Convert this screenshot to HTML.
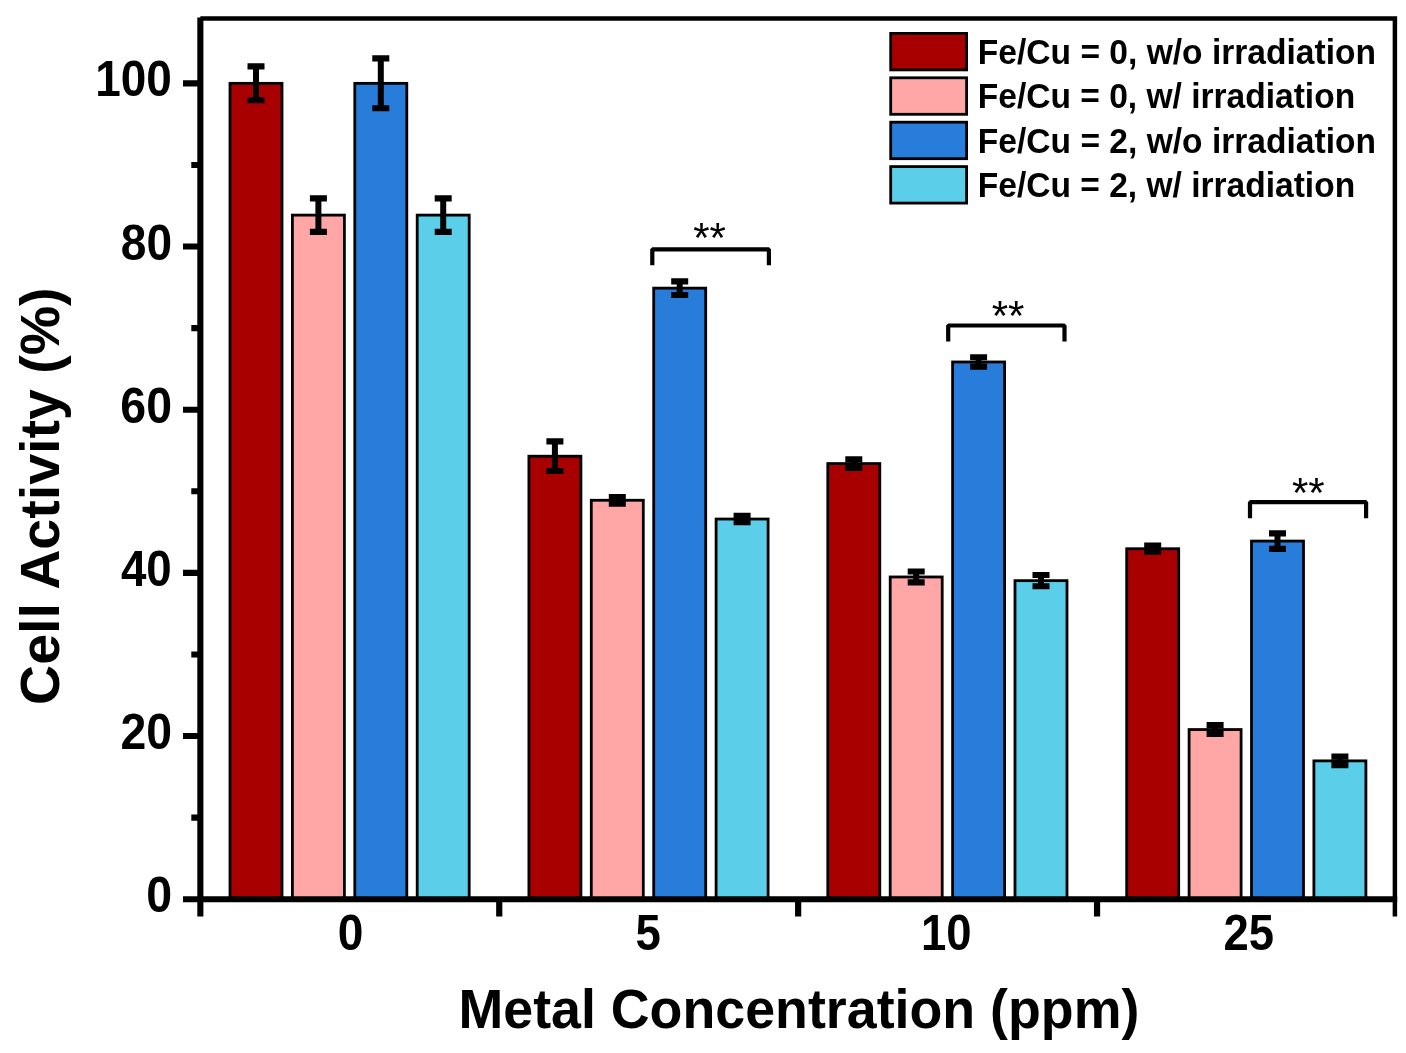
<!DOCTYPE html>
<html><head><meta charset="utf-8"><title>Cell Activity vs Metal Concentration</title>
<style>html,body{margin:0;padding:0;background:#fff;}svg{display:block;}text{font-family:"Liberation Sans",sans-serif;font-weight:bold;fill:#000;}.st{font-weight:normal;}svg{will-change:transform;}</style></head><body>
<svg width="1406" height="1053" viewBox="0 0 1406 1053">
<rect x="0" y="0" width="1406" height="1053" fill="#fff"/>
<rect x="230.00" y="83.35" width="52.00" height="815.90" fill="#A80000" stroke="#000" stroke-width="2.8"/>
<rect x="292.40" y="215.12" width="52.00" height="684.13" fill="#FFA6A6" stroke="#000" stroke-width="2.8"/>
<rect x="354.80" y="83.35" width="52.00" height="815.90" fill="#277DD9" stroke="#000" stroke-width="2.8"/>
<rect x="417.20" y="215.12" width="52.00" height="684.13" fill="#5BCEEA" stroke="#000" stroke-width="2.8"/>
<rect x="528.90" y="456.22" width="52.00" height="443.03" fill="#A80000" stroke="#000" stroke-width="2.8"/>
<rect x="591.30" y="500.27" width="52.00" height="398.98" fill="#FFA6A6" stroke="#000" stroke-width="2.8"/>
<rect x="653.70" y="288.14" width="52.00" height="611.11" fill="#277DD9" stroke="#000" stroke-width="2.8"/>
<rect x="716.10" y="519.04" width="52.00" height="380.21" fill="#5BCEEA" stroke="#000" stroke-width="2.8"/>
<rect x="827.80" y="463.56" width="52.00" height="435.69" fill="#A80000" stroke="#000" stroke-width="2.8"/>
<rect x="890.20" y="576.97" width="52.00" height="322.28" fill="#FFA6A6" stroke="#000" stroke-width="2.8"/>
<rect x="952.60" y="361.98" width="52.00" height="537.27" fill="#277DD9" stroke="#000" stroke-width="2.8"/>
<rect x="1015.00" y="580.64" width="52.00" height="318.61" fill="#5BCEEA" stroke="#000" stroke-width="2.8"/>
<rect x="1126.70" y="548.74" width="52.00" height="350.51" fill="#A80000" stroke="#000" stroke-width="2.8"/>
<rect x="1189.10" y="729.54" width="52.00" height="169.71" fill="#FFA6A6" stroke="#000" stroke-width="2.8"/>
<rect x="1251.50" y="541.07" width="52.00" height="358.18" fill="#277DD9" stroke="#000" stroke-width="2.8"/>
<rect x="1313.90" y="760.87" width="52.00" height="138.38" fill="#5BCEEA" stroke="#000" stroke-width="2.8"/>
<path d="M247.50 66.46H264.50M247.50 100.24H264.50" stroke="#000" stroke-width="6.2" fill="none"/>
<path d="M256.00 66.46V100.24" stroke="#000" stroke-width="6.0" fill="none"/>
<path d="M309.90 198.39H326.90M309.90 231.84H326.90" stroke="#000" stroke-width="6.2" fill="none"/>
<path d="M318.40 198.39V231.84" stroke="#000" stroke-width="6.0" fill="none"/>
<path d="M372.30 58.47H389.30M372.30 108.23H389.30" stroke="#000" stroke-width="6.2" fill="none"/>
<path d="M380.80 58.47V108.23" stroke="#000" stroke-width="6.0" fill="none"/>
<path d="M434.70 198.39H451.70M434.70 231.84H451.70" stroke="#000" stroke-width="6.2" fill="none"/>
<path d="M443.20 198.39V231.84" stroke="#000" stroke-width="6.0" fill="none"/>
<path d="M546.40 441.45H563.40M546.40 470.98H563.40" stroke="#000" stroke-width="6.2" fill="none"/>
<path d="M554.90 441.45V470.98" stroke="#000" stroke-width="6.0" fill="none"/>
<path d="M608.80 497.01H625.80M608.80 503.54H625.80" stroke="#000" stroke-width="6.2" fill="none"/>
<path d="M617.30 497.01V503.54" stroke="#000" stroke-width="6.0" fill="none"/>
<path d="M671.20 281.29H688.20M671.20 294.99H688.20" stroke="#000" stroke-width="6.2" fill="none"/>
<path d="M679.70 281.29V294.99" stroke="#000" stroke-width="6.0" fill="none"/>
<path d="M733.60 515.86H750.60M733.60 522.22H750.60" stroke="#000" stroke-width="6.2" fill="none"/>
<path d="M742.10 515.86V522.22" stroke="#000" stroke-width="6.0" fill="none"/>
<path d="M845.30 459.24H862.30M845.30 467.88H862.30" stroke="#000" stroke-width="6.2" fill="none"/>
<path d="M853.80 459.24V467.88" stroke="#000" stroke-width="6.0" fill="none"/>
<path d="M907.70 571.50H924.70M907.70 582.44H924.70" stroke="#000" stroke-width="6.2" fill="none"/>
<path d="M916.20 571.50V582.44" stroke="#000" stroke-width="6.0" fill="none"/>
<path d="M970.10 357.25H987.10M970.10 366.71H987.10" stroke="#000" stroke-width="6.2" fill="none"/>
<path d="M978.60 357.25V366.71" stroke="#000" stroke-width="6.0" fill="none"/>
<path d="M1032.50 575.01H1049.50M1032.50 586.27H1049.50" stroke="#000" stroke-width="6.2" fill="none"/>
<path d="M1041.00 575.01V586.27" stroke="#000" stroke-width="6.0" fill="none"/>
<path d="M1144.20 545.72H1161.20M1144.20 551.76H1161.20" stroke="#000" stroke-width="6.2" fill="none"/>
<path d="M1152.70 545.72V551.76" stroke="#000" stroke-width="6.0" fill="none"/>
<path d="M1206.60 725.22H1223.60M1206.60 733.87H1223.60" stroke="#000" stroke-width="6.2" fill="none"/>
<path d="M1215.10 725.22V733.87" stroke="#000" stroke-width="6.0" fill="none"/>
<path d="M1269.00 533.32H1286.00M1269.00 548.82H1286.00" stroke="#000" stroke-width="6.2" fill="none"/>
<path d="M1277.50 533.32V548.82" stroke="#000" stroke-width="6.0" fill="none"/>
<path d="M1331.40 756.71H1348.40M1331.40 765.03H1348.40" stroke="#000" stroke-width="6.2" fill="none"/>
<path d="M1339.90 756.71V765.03" stroke="#000" stroke-width="6.0" fill="none"/>
<path d="M200.35 18.50H1394.90V916.55" stroke="#000" stroke-width="4.5" fill="none" stroke-linejoin="miter"/>
<path d="M200.35 17.50V916.55" stroke="#000" stroke-width="6.1" fill="none"/>
<path d="M183 899.25H1397.15" stroke="#000" stroke-width="5.8" fill="none"/>
<path d="M183 736.07H200.35M183 572.89H200.35M183 409.71H200.35M183 246.53H200.35M183 83.35H200.35M191.3 817.66H200.35M191.3 654.48H200.35M191.3 491.30H200.35M191.3 328.12H200.35M191.3 164.94H200.35" stroke="#000" stroke-width="6.1" fill="none"/>
<path d="M499.25 899.25V916.55M798.15 899.25V916.55M1097.05 899.25V916.55" stroke="#000" stroke-width="6.2" fill="none"/>
<text transform="translate(95.21 96.45) scale(0.9315 1)" font-size="49.3">100</text>
<text transform="translate(120.77 259.63) scale(0.9348 1)" font-size="49.3">80</text>
<text transform="translate(120.36 422.81) scale(0.9424 1)" font-size="49.3">60</text>
<text transform="translate(120.90 585.99) scale(0.9267 1)" font-size="49.3">40</text>
<text transform="translate(120.46 749.17) scale(0.9405 1)" font-size="49.3">20</text>
<text transform="translate(146.16 912.35) scale(0.9440 1)" font-size="49.3">0</text>
<text transform="translate(337.86 950.20) scale(0.9360 1)" font-size="49.3">0</text>
<text transform="translate(635.58 950.20) scale(0.9231 1)" font-size="49.3">5</text>
<text transform="translate(920.93 950.20) scale(0.9223 1)" font-size="49.3">10</text>
<text transform="translate(1223.58 950.20) scale(0.9211 1)" font-size="49.3">25</text>
<text transform="translate(458.47 1028.30) scale(0.9775 1)" font-size="55.0">Metal Concentration (ppm)</text>
<text transform="translate(977.80 63.90) scale(0.9514 1)" font-size="35.3">Fe/Cu = 0, w/o irradiation</text>
<text transform="translate(977.80 108.30) scale(0.9504 1)" font-size="35.3">Fe/Cu = 0, w/ irradiation</text>
<text transform="translate(977.80 152.70) scale(0.9514 1)" font-size="35.3">Fe/Cu = 2, w/o irradiation</text>
<text transform="translate(977.80 197.10) scale(0.9504 1)" font-size="35.3">Fe/Cu = 2, w/ irradiation</text>
<text transform="translate(59.2 704.92) rotate(-90) scale(1.0097 1)" font-size="55.0">Cell Activity (%)</text>
<rect x="890.70" y="33.40" width="75.90" height="36.50" fill="#A80000" stroke="#000" stroke-width="2.8"/>
<rect x="890.70" y="77.80" width="75.90" height="36.50" fill="#FFA6A6" stroke="#000" stroke-width="2.8"/>
<rect x="890.70" y="122.20" width="75.90" height="36.50" fill="#277DD9" stroke="#000" stroke-width="2.8"/>
<rect x="890.70" y="166.60" width="75.90" height="36.50" fill="#5BCEEA" stroke="#000" stroke-width="2.8"/>
<path d="M652.3 265.3V249.3H768.9V265.3" stroke="#000" stroke-width="4.2" fill="none" stroke-linejoin="bevel"/>
<text class="st" x="693.13" y="252.10" font-size="42">**</text>
<path d="M948.2 341.5V325.5H1064.5V341.5" stroke="#000" stroke-width="4.2" fill="none" stroke-linejoin="bevel"/>
<text class="st" x="991.68" y="329.70" font-size="42">**</text>
<path d="M1250.0 518.2V502.2H1366.1V518.2" stroke="#000" stroke-width="4.2" fill="none" stroke-linejoin="bevel"/>
<text class="st" x="1292.03" y="507.10" font-size="42">**</text>
</svg></body></html>
